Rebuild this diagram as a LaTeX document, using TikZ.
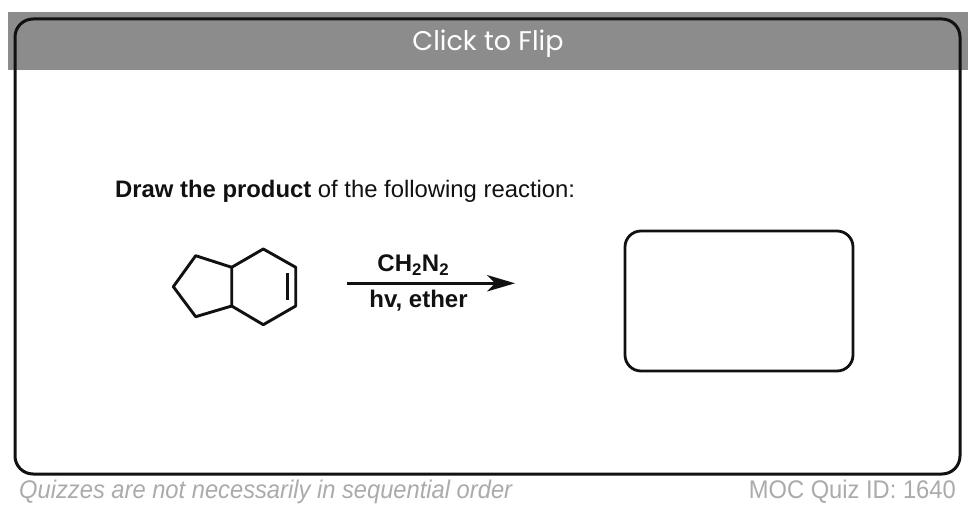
\documentclass[tikz,border=0pt]{standalone}
\usepackage{fontspec}
\setmainfont{Liberation Sans}
\newfontfamily\bannerfont{Poppins}
\definecolor{bannergray}{HTML}{8C8C8C}
\definecolor{footgray}{HTML}{ABABAB}
\definecolor{inkblack}{HTML}{111111}
\tikzset{
  bond/.style={draw=inkblack,line width=2.9pt,line join=round,line cap=round},
  cardbox/.style={draw=inkblack,line width=3pt,rounded corners=18pt},
  answerbox/.style={draw=inkblack,line width=2.8pt,rounded corners=16pt},
  foot/.style={text=footgray,font=\fontsize{25.5}{28}\selectfont,inner sep=0pt},
  reagent/.style={text=inkblack,font=\fontsize{24}{26}\selectfont\bfseries,inner sep=0pt}
}
\begin{document}
\begin{tikzpicture}[x=1pt,y=-1pt]
\useasboundingbox (0,0) rectangle (974,510);
\fill[white] (0,0) rectangle (974,510);
\fill[bannergray] (8,12) rectangle (968,70);
\draw[cardbox] (15,19) rectangle (960,474);
\node[text=white,font=\bannerfont\fontsize{27}{32}\selectfont,inner sep=0pt,anchor=base] (flip) at (488,51) {Click to Flip};
\node[anchor=base west,inner sep=0pt,text=inkblack,font=\fontsize{23.85}{28}\selectfont] (prompt) at (115,198) {\textbf{Draw the product} of the following reaction:};
% molecule
\coordinate (a) at (195.7,255.7);
\coordinate (b) at (231.7,267.3);
\coordinate (c) at (231.7,306);
\coordinate (d) at (195.7,316.7);
\coordinate (e) at (173.3,286.7);
\coordinate (f) at (263.3,249);
\coordinate (g) at (295.7,267.3);
\coordinate (h) at (295.7,306);
\coordinate (i) at (263.3,324.7);
\coordinate (j) at (287.7,273);
\coordinate (k) at (287.7,300);
\draw[bond] (b) -- (a) -- (e) -- (d) -- (c) -- cycle;
\draw[bond] (b) -- (f) -- (g) -- (h) -- (i) -- (c);
\draw[bond,line cap=butt] (j) -- (k);
% arrow
\coordinate (arrowstart) at (347,283.3);
\coordinate (arrowshaft) at (495,283.3);
\coordinate (arrowtip) at (515,283.3);
\coordinate (headtop) at (487,275);
\coordinate (headbot) at (487,291.5);
\draw[inkblack,line width=3pt] (arrowstart) -- (arrowshaft);
\fill[inkblack] (arrowtip) -- (headtop) -- (arrowshaft) -- (headbot) -- cycle;
\node[reagent,anchor=base] (top) at (413.3,272) {CH\textsubscript{2}N\textsubscript{2}};
\node[reagent,anchor=base] (bottom) at (418.5,308) {hv, ether};
\draw[answerbox] (625,231) rectangle (853,371);
\node[foot,anchor=base west,font=\fontsize{25.5}{28}\selectfont\itshape] (quiz) at (19,498.5) {\scalebox{0.93}[1]{Quizzes are not necessarily in sequential order}};
\node[foot,anchor=base east] (moc) at (956,498) {\scalebox{0.93}[1]{MOC Quiz ID: 1640}};
\end{tikzpicture}
\end{document}
